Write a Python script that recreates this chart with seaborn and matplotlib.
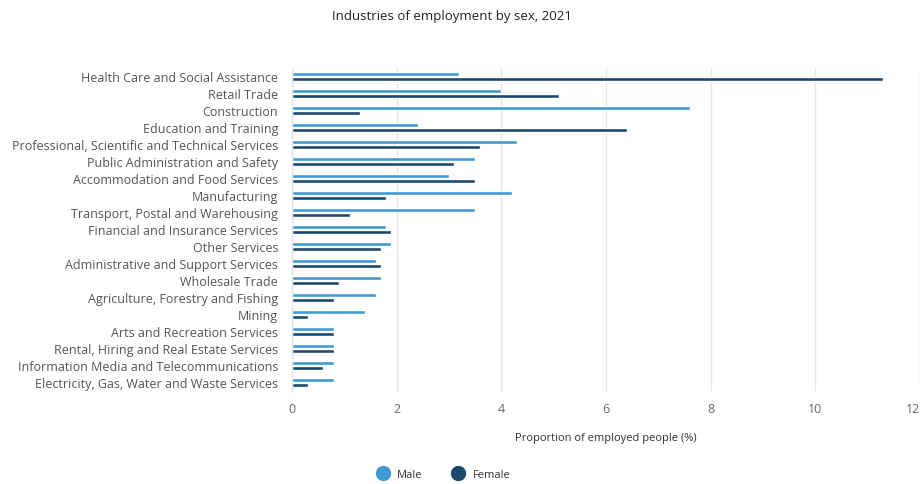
import matplotlib
matplotlib.use("Agg")
import matplotlib.pyplot as plt
from matplotlib.lines import Line2D
import seaborn as sns
import pandas as pd

industries = [
    "Health Care and Social Assistance",
    "Retail Trade",
    "Construction",
    "Education and Training",
    "Professional, Scientific and Technical Services",
    "Public Administration and Safety",
    "Accommodation and Food Services",
    "Manufacturing",
    "Transport, Postal and Warehousing",
    "Financial and Insurance Services",
    "Other Services",
    "Administrative and Support Services",
    "Wholesale Trade",
    "Agriculture, Forestry and Fishing",
    "Mining",
    "Arts and Recreation Services",
    "Rental, Hiring and Real Estate Services",
    "Information Media and Telecommunications",
    "Electricity, Gas, Water and Waste Services",
]
male = [3.2, 4.0, 7.6, 2.4, 4.3, 3.5, 3.0, 4.2, 3.5, 1.8,
        1.9, 1.6, 1.7, 1.6, 1.4, 0.8, 0.8, 0.8, 0.8]
female = [11.3, 5.1, 1.3, 6.4, 3.6, 3.1, 3.5, 1.8, 1.1, 1.9,
          1.7, 1.7, 0.9, 0.8, 0.3, 0.8, 0.8, 0.6, 0.3]
sexes = ["Male", "Female"]
x_ticks = [0, 2, 4, 6, 8, 10, 12]

MALE_C = "#3e9bd2"
FEMALE_C = "#19496d"

df = pd.DataFrame({
    "Industry": industries * 2,
    "Sex": [sexes[0]] * len(industries) + [sexes[1]] * len(industries),
    "Value": male + female,
})

sns.set_theme(style="white")
plt.rcParams["font.family"] = ["Open Sans", "DejaVu Sans"]

fig = plt.figure(figsize=(9.23, 4.85), dpi=100)
ax = fig.add_axes([0.3164, 0.1918, 0.6803, 0.6662])

sns.barplot(
    data=df, y="Industry", x="Value", hue="Sex", order=industries,
    hue_order=sexes, palette=[MALE_C, FEMALE_C], orient="h",
    width=0.65, gap=0.25, saturation=1, errorbar=None, legend=False, ax=ax,
)

ax.set_xlim(0, 12)
ax.set_ylim(len(industries) - 0.5, -0.5)
ax.set_xticks(x_ticks)
ax.set_xticklabels([str(t) for t in x_ticks])
ax.xaxis.grid(True, color="#e4e6ea", linewidth=1)
ax.set_axisbelow(True)
for s in ["top", "right", "bottom"]:
    ax.spines[s].set_visible(False)
ax.spines["left"].set_color("#dfe3e8")
ax.spines["left"].set_linewidth(1)
ax.tick_params(axis="both", length=0)
ax.tick_params(axis="y", labelsize=9, labelcolor="#555555", pad=10)
ax.tick_params(axis="x", labelsize=9, labelcolor="#666666", pad=8)
# keep the last tick label inside the figure
ax.get_xticklabels()[-1].set_horizontalalignment("right")
ax.set_ylabel("")
ax.set_xlabel("Proportion of employed people (%)", fontsize=8, color="#333333",
              labelpad=12)

fig.text(0.49, 0.965, "Industries of employment by sex, 2021", ha="center",
         va="center", fontsize=9.5, color="#222222")

handles = [
    Line2D([], [], marker="o", linestyle="none", markersize=10,
           markerfacecolor=MALE_C, markeredgecolor=MALE_C, label="Male"),
    Line2D([], [], marker="o", linestyle="none", markersize=10,
           markerfacecolor=FEMALE_C, markeredgecolor=FEMALE_C, label="Female"),
]
fig.legend(handles=handles, loc="center", bbox_to_anchor=(0.478, 0.019),
           ncol=2, frameon=False, fontsize=8, handletextpad=0.3,
           columnspacing=2.2, labelcolor="#333333")

fig.savefig("out.png", dpi=100, facecolor="white")
